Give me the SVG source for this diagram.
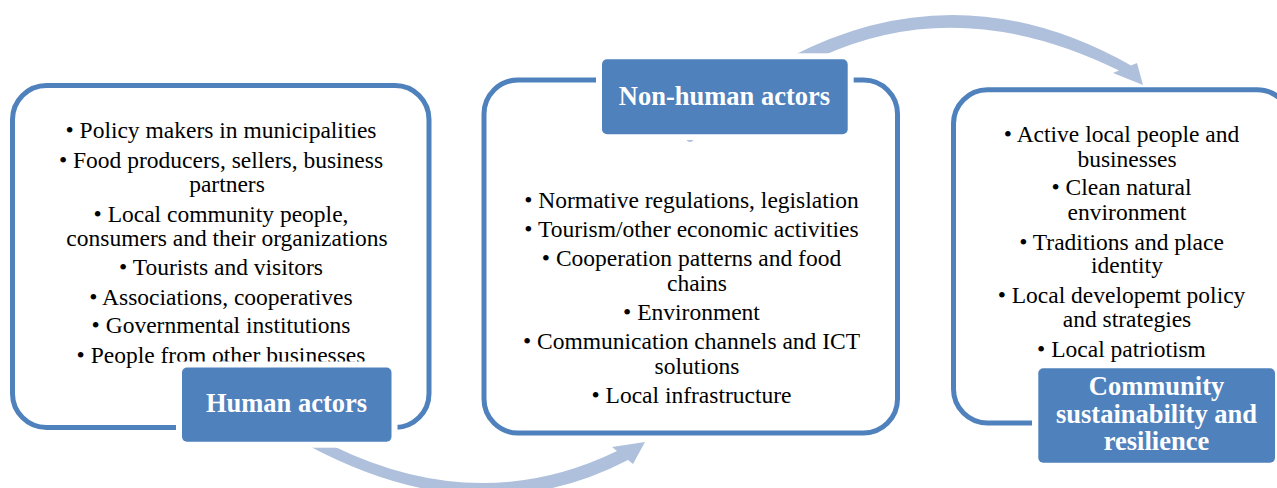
<svg xmlns="http://www.w3.org/2000/svg" width="1277" height="488" viewBox="0 0 1277 488">
  <style>
    .frame { fill: none; stroke: #4F81BD; stroke-width: 5; }
    .item { font-family: "Liberation Serif", "Times New Roman", serif; font-size: 23.5px; fill: #000; text-anchor: middle; }
    .mask { fill: #fff; }
    .tag { fill: #4F81BD; }
    .tag-text { font-family: "Liberation Serif", "Times New Roman", serif; font-size: 26.5px; font-weight: bold; fill: #fff; text-anchor: middle; }
    .flow { fill: #AFC0DC; }
  </style>

  <!-- curved flow arrows, drawn first so the tag masks trim their tails -->
  <g id="connectors">
    <path class="flow" d="M 333 446 Q 480 517.5 617 451 L 612 447 L 645 442 L 633 464 L 628 460 Q 480 537 309 446 L 218 366 Q 225 352 232 366 Z"/>
    <path class="flow" d="M 790 57 Q 959.5 -31.25 1131 65.5 L 1137 63 L 1143 85 L 1113 73 L 1119 70.5 Q 960 -7.75 820 57 L 695 138 Q 690 146 685 138 Z"/>
  </g>

  <g id="human-actors">
    <rect class="frame" x="12.5" y="85.5" width="416.5" height="342" rx="34"/>
    <text class="item" x="221" y="138.3">• Policy makers in municipalities</text>
    <text class="item" x="221" y="167.5">• Food producers, sellers, business</text>
    <text class="item" x="227" y="191.5">partners</text>
    <text class="item" x="221" y="221.5">• Local community people,</text>
    <text class="item" x="227" y="245.5">consumers and their organizations</text>
    <text class="item" x="221" y="274.5">• Tourists and visitors</text>
    <text class="item" x="221" y="304.5">• Associations, cooperatives</text>
    <text class="item" x="221" y="333">• Governmental institutions</text>
    <text class="item" x="221" y="362.5">• People from other businesses</text>
    <rect class="mask" x="176" y="361.5" width="221.5" height="86.2"/>
    <rect class="tag" x="182" y="367.5" width="209.5" height="74.2" rx="5"/>
    <text class="tag-text" x="286.5" y="411.7">Human actors</text>
  </g>

  <g id="non-human-actors">
    <rect class="frame" x="484" y="80" width="413.5" height="353" rx="34"/>
    <text class="item" x="691.5" y="208.3">• Normative regulations, legislation</text>
    <text class="item" x="691.5" y="237.3">• Tourism/other economic activities</text>
    <text class="item" x="691.5" y="265.7">• Cooperation patterns and food</text>
    <text class="item" x="697" y="290.7">chains</text>
    <text class="item" x="691.5" y="320">• Environment</text>
    <text class="item" x="691.5" y="349">• Communication channels and ICT</text>
    <text class="item" x="697" y="374">solutions</text>
    <text class="item" x="691.5" y="403.3">• Local infrastructure</text>
    <rect class="mask" x="596" y="53.3" width="257.7" height="86.7"/>
    <rect class="tag" x="602" y="59.3" width="245.7" height="75" rx="5"/>
    <text class="tag-text" x="724.5" y="105">Non-human actors</text>
  </g>

  <g id="community-sustainability">
    <rect class="frame" x="953.5" y="89.7" width="337.5" height="333.3" rx="34"/>
    <text class="item" x="1121.5" y="141.7">• Active local people and</text>
    <text class="item" x="1127" y="167.3">businesses</text>
    <text class="item" x="1121.5" y="195">• Clean natural</text>
    <text class="item" x="1127" y="220">environment</text>
    <text class="item" x="1121.5" y="250">• Traditions and place</text>
    <text class="item" x="1127" y="273.3">identity</text>
    <text class="item" x="1121.5" y="303.3">• Local developemt policy</text>
    <text class="item" x="1127" y="327.3">and strategies</text>
    <text class="item" x="1121.5" y="356.7">• Local patriotism</text>
    <rect class="mask" x="1032" y="362.3" width="249" height="106.4"/>
    <rect class="tag" x="1038.3" y="368.3" width="236.7" height="94.4" rx="5"/>
    <text class="tag-text" x="1156.5" y="395">Community</text>
    <text class="tag-text" x="1156.5" y="422.7">sustainability and</text>
    <text class="tag-text" x="1156.5" y="450">resilience</text>
  </g>
</svg>
